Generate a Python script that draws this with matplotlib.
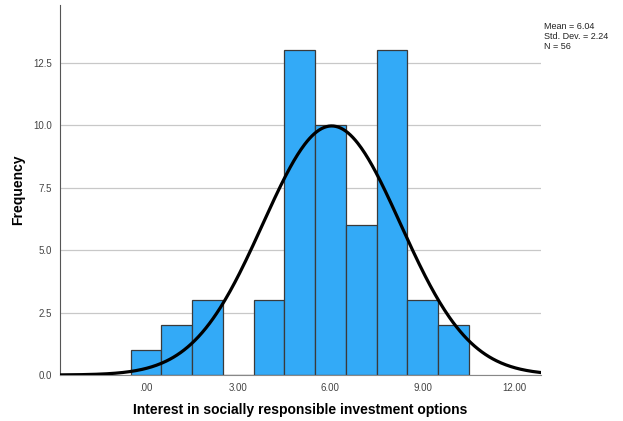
import matplotlib.pyplot as plt
import numpy as np

plt.rcParams['font.family'] = ['Liberation Sans', 'DejaVu Sans']

# histogram data (bin centres and counts)
bin_centers = [0, 1, 2, 3, 4, 5, 6, 7, 8, 9, 10]
counts = [1, 2, 3, 0, 3, 13, 10, 6, 13, 3, 2]
mean = 6.04
std = 2.24
n = 56
xticks = [0, 3, 6, 9, 12]
xticklabels = ['.00', '3.00', '6.00', '9.00', '12.00']
yticks = [0.0, 2.5, 5.0, 7.5, 10.0, 12.5]

fig = plt.figure(figsize=(6.23, 4.21), dpi=100)
ax = fig.add_axes([0.0963, 0.1093, 0.772, 0.879])

ax.bar(bin_centers, counts, width=1.0, color='#33aaf7', edgecolor='#3a3a3a',
       linewidth=0.9, zorder=2)

# normal curve scaled to counts
xs = np.linspace(-2.8, 12.85, 400)
ys = n * 1.0 / (std * np.sqrt(2 * np.pi)) * np.exp(-0.5 * ((xs - mean) / std) ** 2)
ax.plot(xs, ys, color='black', linewidth=2.3, zorder=3)

ax.set_xlim(-2.8, 12.85)
ax.set_ylim(0, 14.82)
ax.set_xticks(xticks)
ax.set_xticklabels(xticklabels)
ax.set_yticks(yticks)
ax.set_yticklabels(['%.1f' % v for v in yticks])
ax.tick_params(axis='both', length=0, labelsize=7, colors='#444444', pad=6)
ax.yaxis.grid(True, color='#c8c8c8', linewidth=0.9, zorder=0)
ax.set_axisbelow(True)

for s in ['top', 'right']:
    ax.spines[s].set_visible(False)
ax.spines['left'].set_color('#555555')
ax.spines['bottom'].set_color('#888888')

ax.set_xlabel('Interest in socially responsible investment options',
              fontsize=10, fontweight='bold')
ax.set_ylabel('Frequency', fontsize=10, fontweight='bold')
ax.xaxis.set_label_coords(0.5, -0.095)
ax.yaxis.set_label_coords(-0.087, 0.5)
ax.xaxis.label.set_va('center')
ax.yaxis.label.set_va('center')

fig.text(544 / 623, 1 - 22 / 421,
         'Mean = %.2f\nStd. Dev. = %.2f\nN = %d' % (mean, std, n),
         fontsize=6.5, va='top', ha='left', color='#222222', linespacing=1.15)

fig.savefig('out.png', dpi=100)
